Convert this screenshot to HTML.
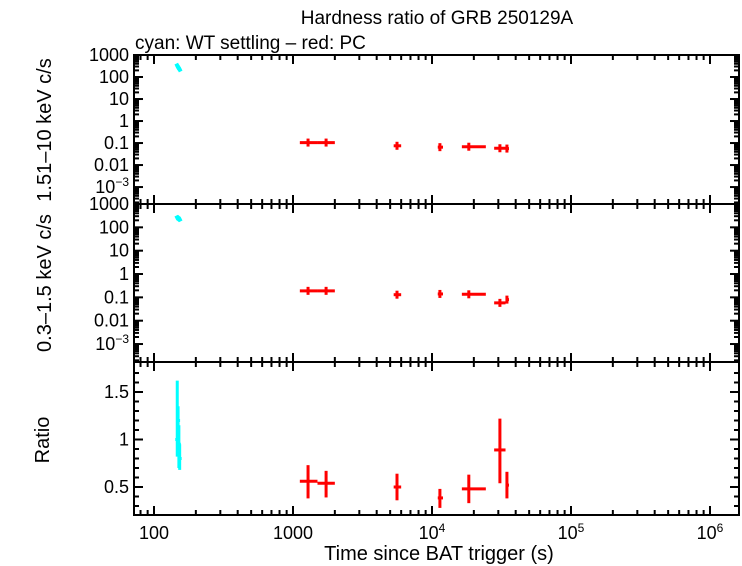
<!DOCTYPE html>
<html><head><meta charset="utf-8"><style>
body{margin:0;background:#fff;}
svg{display:block;font-family:"Liberation Sans",sans-serif;}
</style></head><body>
<svg id="c" width="742" height="566"></svg>
<script>
// data
const pcTime=[1283,1730,5600,11400,18400,30800,34600];
const pcTlo=[1120,1500,5300,11000,16400,28000,33800];
const pcThi=[1500,2000,6000,12000,24400,33800,35800];
const pcHard=[0.105,0.105,0.075,0.065,0.068,0.058,0.056];
const pcSoft=[0.19,0.19,0.13,0.14,0.135,0.058,0.08];
const pcRatio=[0.56,0.54,0.5,0.385,0.48,0.89,0.52];
const pcRlo=[0.38,0.39,0.36,0.28,0.33,0.54,0.38];
const pcRhi=[0.73,0.67,0.64,0.48,0.63,1.22,0.66];
const wtTime=[147,149,151,153];
const wtHard=[330,280,250,220];
const wtSoft=[260,250,230,220];
const wtRatio=[1.0,1.2,0.95,0.8];
const wtRlo=[0.82,0.85,0.7,0.68];
const wtRhi=[1.62,1.35,1.15,0.95];
const xTicks=[100,1000,10000,100000,1000000];
const xTickLabels=["100","1000","10^4","10^5","10^6"];
const cTicks=[1000,100,10,1,0.1,0.01,0.001];
const cTickLabels=["1000","100","10","1","0.1","0.01","10^\u22123"];
const rTicks=[1.5,1,0.5];
const rTickLabels=["1.5","1","0.5"];

const svg=document.getElementById('c');
const NS="http://www.w3.org/2000/svg";
const L=134,R=739;
const P=[{t:55,b:204},{t:204,b:362},{t:362,b:515}];
const X=t=>154+(Math.log10(t)-2)*139;
const Yc=(p,v)=>P[p].t+(3-Math.log10(v))*(P[p].b-P[p].t)/6.77;
const Yr=v=>392+(1.5-v)*95;
function el(tag,a,name,txt){const e=document.createElementNS(NS,tag);for(const k in a)e.setAttribute(k,a[k]);


if(txt!==undefined)e.textContent=txt;svg.appendChild(e);return e;}
function line(x1,y1,x2,y2,name,col,w){return el('line',{x1,y1,x2,y2,stroke:col||'#000','stroke-width':w||1},name);}
function label(x,y,s,anchor,name,size){
  const e=el('text',{x,y,'text-anchor':anchor,'font-size':size||18},name);
  const m=s.split('^');e.textContent=m[0];
  if(m[1]){const ts=document.createElementNS(NS,'tspan');ts.setAttribute('dy',-7);ts.setAttribute('font-size',12);ts.textContent=m[1];e.appendChild(ts);}
  return e;}
// frames
P.forEach((p,i)=>{el('rect',{x:L,y:p.t,width:R-L,height:p.b-p.t,fill:'none',stroke:'#000','stroke-width':2},'panel-frame-'+i);});
// x ticks
for(let d=1;d<=6;d++){for(let m=1;m<10;m++){const t=m*Math.pow(10,d);const x=X(t);if(x<L||x>R)continue;const len=m==1?9:5;
P.forEach((p,i)=>{line(x,p.b,x,p.b-len,'x-tick',null,2);line(x,p.t,x,p.t+len,'x-tick',null,2);});}}
xTicks.forEach((t,i)=>label(X(t),539,xTickLabels[i],'middle','x-tick-label'));
// y ticks counts
[0,1].forEach(p=>{cTicks.forEach((v,i)=>{const y=Yc(p,v);line(L,y,L+9,y,'y-tick',null,2);line(R,y,R-9,y,'y-tick',null,2);
 if(!(p==1&&i==0))label(129,y+6,cTickLabels[i],'end','y-tick-label');});
 for(let d=-4;d<3;d++)for(let m=2;m<10;m++){const v=m*Math.pow(10,d);const y=Yc(p,v);if(y<P[p].t||y>P[p].b)continue;line(L,y,L+5,y,'y-minor-tick',null,2);line(R,y,R-5,y,'y-minor-tick',null,2);}});
label(129,210,"1000",'end','y-tick-label');
rTicks.forEach((v,i)=>{const y=Yr(v);line(L,y,L+9,y,'y-tick',null,2);line(R,y,R-9,y,'y-tick',null,2);label(129,y+6,rTickLabels[i],'end','y-tick-label');});
for(let v=0.3;v<1.8;v+=0.1){const y=Yr(v);line(L,y,L+5,y,'y-minor-tick',null,2);line(R,y,R-5,y,'y-minor-tick',null,2);}
// titles
label(437,24,"Hardness ratio of GRB 250129A",'middle','chart-title',19);
label(135,49,"cyan: WT settling \u2013 red: PC",'start','subtitle',19);
label(439,560,"Time since BAT trigger (s)",'middle','x-axis-title',20);
el('text',{x:0,y:0,'font-size':20,'text-anchor':'middle',transform:'translate(51,130) rotate(-90)'},'hard-y-axis-title',"1.51\u201310 keV c/s");
el('text',{x:0,y:0,'font-size':20,'text-anchor':'middle',transform:'translate(51,283) rotate(-90)'},'soft-y-axis-title',"0.3\u20131.5 keV c/s");
el('text',{x:0,y:0,'font-size':20,'text-anchor':'middle',transform:'translate(49,440) rotate(-90)'},'ratio-y-axis-title',"Ratio");
// PC points
const red='#ff0000',cy='#00ffff';
pcTime.forEach((t,i)=>{
 [[0,pcHard[i]],[1,pcSoft[i]]].forEach(([p,v])=>{const y=Yc(p,v);
  line(X(pcTlo[i]),y,X(pcThi[i]),y,'pc-point-xerr',red,3);line(X(t),y-4,X(t),y+4,'pc-point-yerr',red,3);});
 const y=Yr(pcRatio[i]);line(X(pcTlo[i]),y,X(pcThi[i]),y,'pc-ratio-xerr',red,3);
 line(X(t),Yr(pcRlo[i]),X(t),Yr(pcRhi[i]),'pc-ratio-yerr',red,3);
});
wtTime.forEach((t,i)=>{
 [[0,wtHard[i]],[1,wtSoft[i]]].forEach(([p,v])=>{const y=Yc(p,v);line(X(t)-1,y-2,X(t)+1,y+2,'wt-point',cy,4);});
 const y=Yr(wtRatio[i]);line(X(t)-2,y,X(t)+2,y,'wt-ratio-xerr',cy,3);
 line(X(t),Yr(wtRlo[i]),X(t),Yr(wtRhi[i]),'wt-ratio-yerr',cy,3);
});
</script>
</body></html>
